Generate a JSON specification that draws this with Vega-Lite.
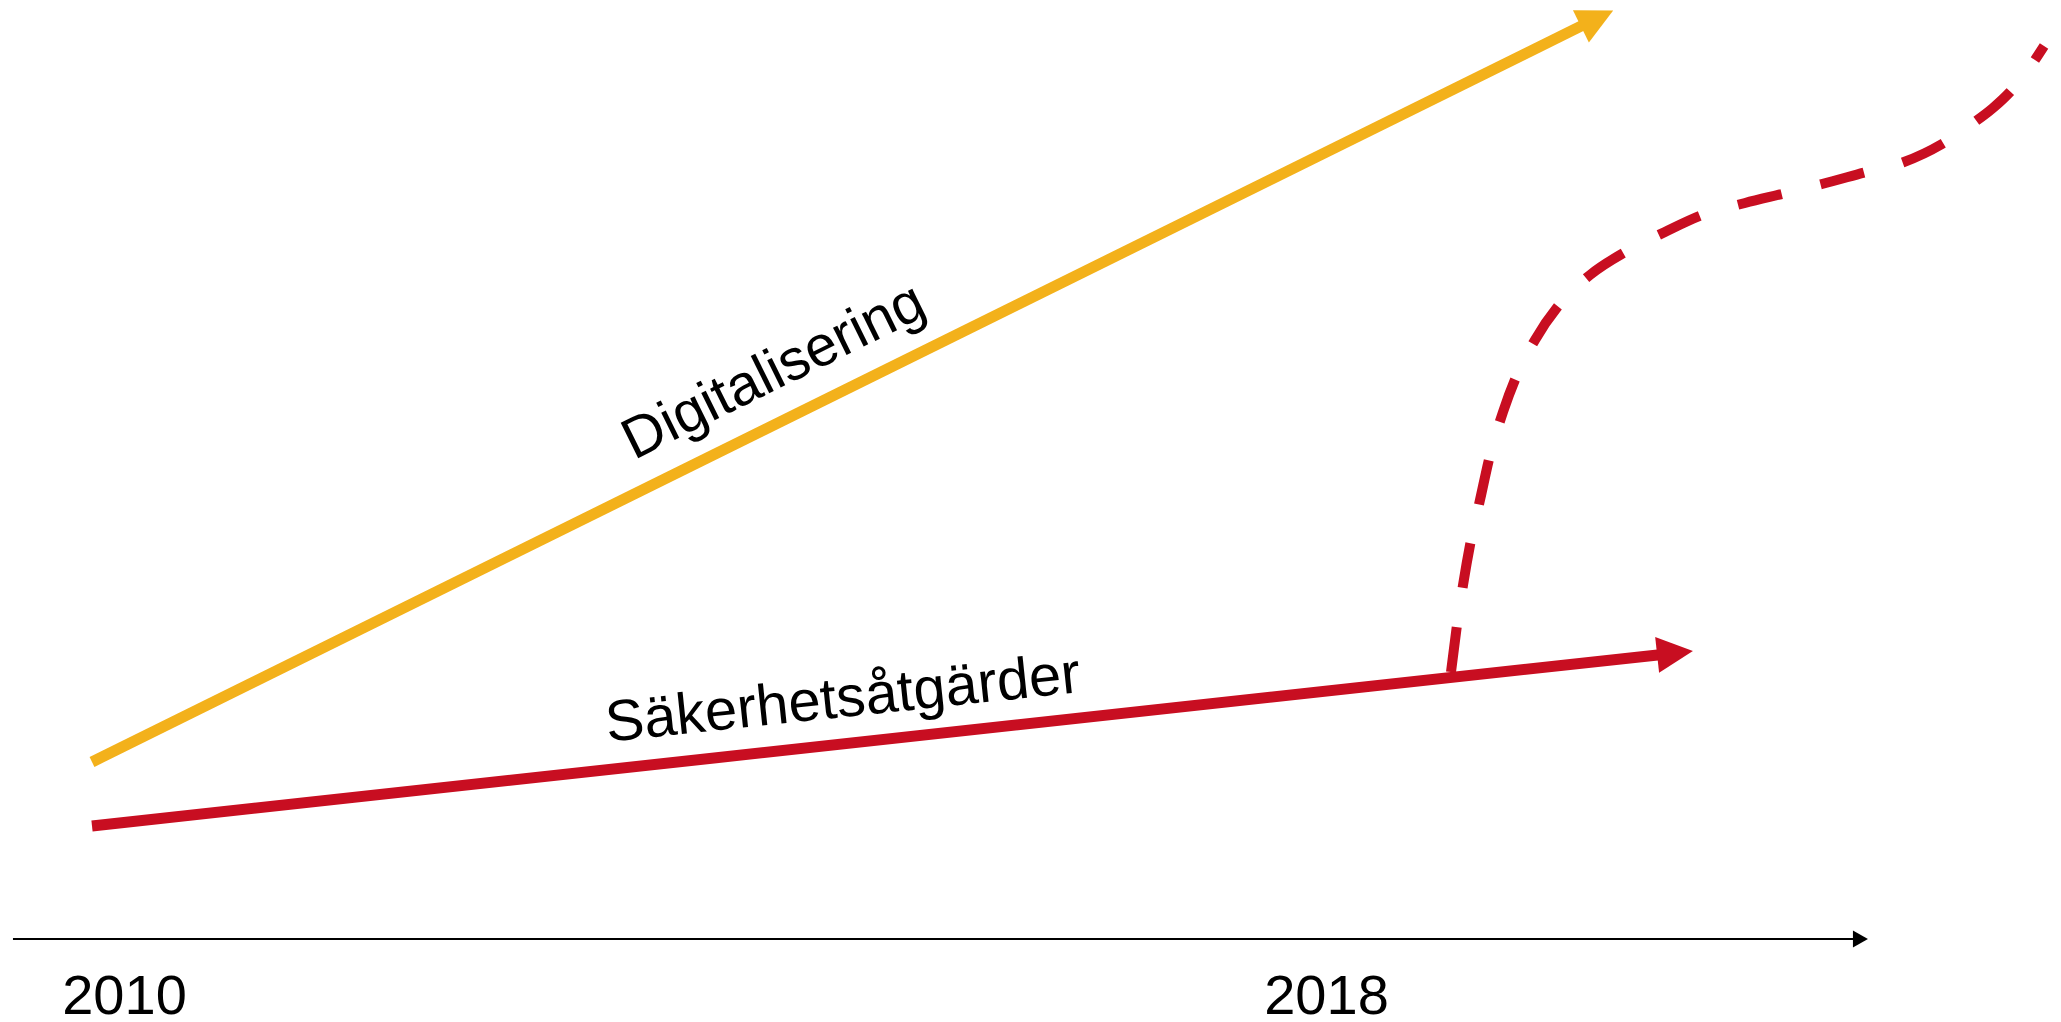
{
  "$schema": "https://vega.github.io/schema/vega-lite/v6.json",
  "width": 1502.5,
  "height": 900,
  "padding": {"left": 124, "top": 39, "right": 434.5, "bottom": 83},
  "autosize": {"type": "none"},
  "background": "white",
  "config": {"view": {"stroke": null}},
  "encoding": {
    "x": {
      "field": "year",
      "type": "quantitative",
      "scale": {"domain": [2010, 2020], "nice": false, "zero": false},
      "axis": {
        "values": [2010, 2018],
        "format": "d",
        "domain": false,
        "ticks": false,
        "grid": false,
        "title": null,
        "labelFont": "Liberation Sans",
        "labelFontSize": 56,
        "labelColor": "black",
        "labelPadding": 30,
        "labelFlush": false,
        "labelOverlap": false
      }
    },
    "y": {
      "field": "level",
      "type": "quantitative",
      "scale": {"domain": [0, 100], "nice": false, "zero": false},
      "axis": null
    }
  },
  "layer": [
    {
      "data": {"values": [{"year": 2009.261, "year_end": 2021.521, "level": 0}]},
      "mark": {"type": "rule", "color": "black", "strokeWidth": 2},
      "encoding": {"x2": {"field": "year_end"}}
    },
    {
      "data": {"values": [{"year": 2021.557, "level": 0}]},
      "mark": {"type": "point", "shape": "M1,0 L-1,-1.13 L-1,1.13 Z", "filled": true, "color": "black", "opacity": 1, "size": 225, "strokeWidth": 0}
    },
    {
      "data": {"values": [{"year": 2009.787, "level": 19.67}, {"year": 2019.717, "level": 101.59}]},
      "mark": {"type": "line", "color": "#F3B11B", "strokeWidth": 11, "strokeCap": "butt"}
    },
    {
      "data": {"values": [{"year": 2009.787, "level": 12.56}, {"year": 2020.223, "level": 31.59}]},
      "mark": {"type": "line", "color": "#C80E21", "strokeWidth": 11, "strokeCap": "butt"}
    },
    {
      "data": {"values": [
        {"year": 2018.832, "level": 29.67},
        {"year": 2018.872, "level": 34.89},
        {"year": 2018.912, "level": 39.33},
        {"year": 2018.965, "level": 44.33},
        {"year": 2019.025, "level": 48.78},
        {"year": 2019.092, "level": 53.78},
        {"year": 2019.178, "level": 58.56},
        {"year": 2019.271, "level": 62.67},
        {"year": 2019.391, "level": 66.56},
        {"year": 2019.557, "level": 70.56},
        {"year": 2019.757, "level": 73.78},
        {"year": 2020.003, "level": 76.44},
        {"year": 2020.256, "level": 78.56},
        {"year": 2020.522, "level": 80.56},
        {"year": 2020.789, "level": 81.78},
        {"year": 2021.062, "level": 82.89},
        {"year": 2021.301, "level": 83.89},
        {"year": 2021.594, "level": 85.22},
        {"year": 2021.847, "level": 86.33},
        {"year": 2022.1, "level": 88.33},
        {"year": 2022.299, "level": 90.56},
        {"year": 2022.439, "level": 92.33},
        {"year": 2022.552, "level": 94.11},
        {"year": 2022.672, "level": 96.56},
        {"year": 2022.779, "level": 99.22}
      ]},
      "mark": {"type": "line", "color": "#C80E21", "strokeWidth": 10, "strokeCap": "butt", "strokeDash": [45, 40], "interpolate": "monotone"}
    },
    {
      "data": {"values": [{"year": 2019.804, "level": 102.29}]},
      "mark": {"type": "point", "shape": "M1,0 L-1,-1 L-1,1 Z", "filled": true, "color": "#F3B11B", "opacity": 1, "size": 1296, "strokeWidth": 0, "angle": -26.3}
    },
    {
      "data": {"values": [{"year": 2020.323, "level": 31.78}]},
      "mark": {"type": "point", "shape": "M1,0 L-1,-1 L-1,1 Z", "filled": true, "color": "#C80E21", "opacity": 1, "size": 1296, "strokeWidth": 0, "angle": -6.24}
    },
    {
      "data": {"values": [{"year": 2014.326, "level": 63.0, "label": "Digitalisering"}]},
      "mark": {"type": "text", "font": "Liberation Sans", "fontSize": 57.5, "color": "black", "align": "center", "baseline": "middle", "angle": -26.3},
      "encoding": {"text": {"field": "label"}}
    },
    {
      "data": {"values": [{"year": 2014.785, "level": 26.56, "label": "Säkerhetsåtgärder"}]},
      "mark": {"type": "text", "font": "Liberation Sans", "fontSize": 58, "color": "black", "align": "center", "baseline": "middle", "angle": -6},
      "encoding": {"text": {"field": "label"}}
    }
  ]
}
